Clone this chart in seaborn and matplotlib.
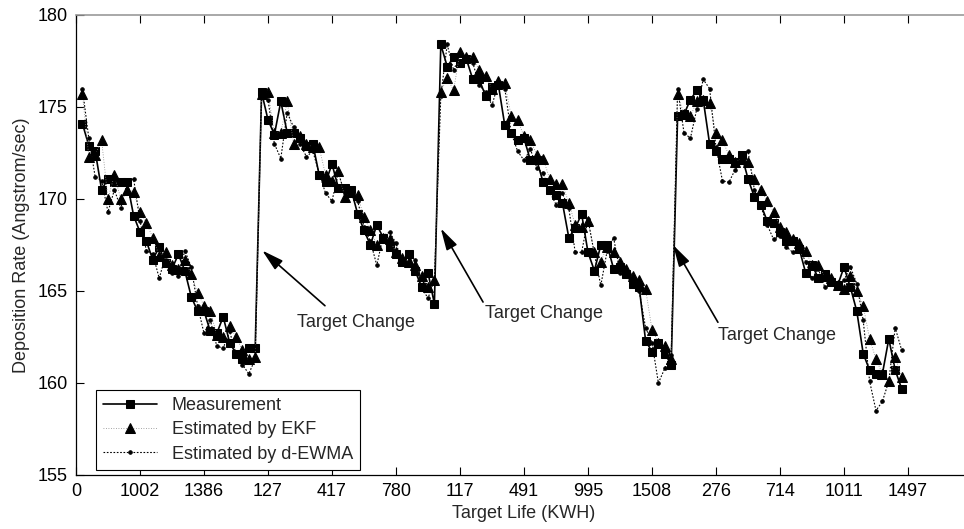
import numpy as np
import pandas as pd
import seaborn as sns
import matplotlib.pyplot as plt

sns.set_style("ticks")
plt.rcParams["font.family"] = ["Liberation Sans", "DejaVu Sans"]
plt.rcParams["font.size"] = 13

# measurement, one value per run (4 targets)
measurement = [
    174.1, 172.9, 172.6, 170.5, 171.1, 170.9, 170.9, 170.9, 169.1, 168.2,
    167.7, 166.7, 167.4, 166.5, 166.2, 167.0, 166.1, 164.7, 163.9, 163.9,
    162.8, 162.7, 163.6, 162.2, 161.6, 161.3, 161.9, 161.9,
    175.8, 174.3, 173.5, 175.3, 173.6, 173.6, 173.3, 172.9, 173.0, 171.3,
    170.9, 171.9, 170.6, 170.6, 170.5, 169.2, 168.3, 167.5, 168.6, 167.9,
    167.4, 167.0, 166.6, 167.0, 166.1, 165.2, 166.0, 164.3,
    178.4, 177.2, 177.7, 177.4, 177.6, 176.5, 176.5, 175.6, 176.1, 176.2,
    174.0, 173.6, 173.2, 173.3, 172.1, 172.1, 170.9, 170.5, 170.2, 169.8,
    167.9, 168.4, 169.2, 167.1, 166.1, 167.5, 167.5, 166.2, 166.3, 165.9,
    165.4, 165.2, 162.3, 161.7, 162.2, 161.6, 161.0,
    174.5, 174.6, 175.4, 175.9, 175.4, 173.0, 172.6, 172.2, 172.2, 172.0,
    172.4, 171.1, 170.1, 169.7, 168.8, 168.7, 168.2, 167.7, 167.7, 167.3,
    166.0, 166.4, 165.7, 165.9, 165.5, 165.3, 166.3, 165.2, 163.9, 161.6,
    160.7, 160.5, 160.5, 162.4, 160.7, 159.7,
]

ekf = [
    175.7, 172.3, 172.4, 173.2, 170.0, 171.3, 170.0, 170.5, 170.4, 169.3,
    168.7, 167.9, 166.9, 167.1, 166.4, 166.2, 166.7, 165.9, 164.9, 164.2,
    163.9, 162.6, 162.5, 163.1, 162.5, 161.8, 161.3, 161.4,
    175.7, 175.8, 173.6, 173.6, 175.3, 173.0, 173.4, 173.0, 172.8, 172.8,
    171.3, 171.0, 171.5, 170.1, 170.4, 170.2, 169.0, 168.3, 167.5, 167.9,
    167.8, 167.1, 166.8, 166.6, 166.4, 165.8, 165.2, 165.6,
    175.8, 176.6, 175.9, 178.0, 177.7, 177.7, 177.0, 176.7, 176.0, 176.4,
    176.3, 174.5, 174.3, 173.4, 173.2, 172.4, 172.2, 171.1, 170.8, 170.8,
    169.8, 168.6, 168.5, 168.8, 167.1, 166.6, 167.4, 167.1, 166.6, 166.2,
    165.8, 165.6, 165.1, 162.9, 162.2, 162.0, 161.3,
    175.7, 174.6, 174.5, 175.3, 175.4, 175.2, 173.6, 173.2, 172.4, 172.0,
    172.2, 172.0, 171.1, 170.5, 169.9, 169.3, 168.5, 168.2, 167.8, 167.6,
    167.2, 166.4, 166.4, 165.8, 165.7, 165.3, 165.1, 165.8, 165.0, 164.2,
    162.4, 161.3, 160.5, 160.1, 161.4, 160.3,
]

d_ewma = [
    176.0, 173.3, 171.2, 171.0, 169.3, 170.5, 169.5, 170.9, 171.1, 168.8,
    167.2, 167.0, 165.7, 166.9, 166.0, 165.8, 167.2, 166.3, 164.2, 162.7,
    163.4, 162.0, 161.9, 162.8, 161.6, 161.0, 160.5, 161.3,
    175.9, 175.4, 173.0, 172.2, 174.7, 173.9, 173.0, 172.3, 172.6, 171.4,
    170.3, 169.9, 171.4, 170.3, 170.2, 169.9, 168.5, 167.7, 166.4, 168.0,
    168.2, 167.6, 166.5, 166.9, 166.7, 165.2, 164.6, 165.6,
    175.6, 178.4, 177.0, 177.8, 177.6, 177.4, 176.2, 175.8, 175.1, 176.3,
    176.0, 173.6, 172.6, 172.1, 172.7, 171.7, 171.4, 170.4, 169.7, 170.3,
    169.5, 167.1, 167.1, 168.9, 167.0, 165.3, 167.2, 167.9, 166.0, 165.8,
    165.4, 165.0, 163.0, 162.2, 160.0, 160.8, 161.5,
    176.0, 173.6, 173.3, 174.9, 176.5, 176.0, 172.8, 171.0, 170.9, 171.6,
    172.0, 172.6, 170.5, 169.6, 168.6, 167.8, 168.0, 167.4, 167.1, 167.3,
    166.6, 165.7, 166.2, 165.2, 165.5, 165.3, 165.6, 166.3, 165.4, 163.4,
    160.1, 158.5, 159.0, 160.1, 163.0, 161.8,
]

tick_pos = list(range(0, 140, 10))
tick_labels = ["0", "1002", "1386", "127", "417", "780", "117", "491",
               "995", "1508", "276", "714", "1011", "1497"]

run = np.arange(1, len(measurement) + 1)
df = pd.DataFrame({"run": run, "meas": measurement, "ekf": ekf, "dewma": d_ewma})

fig = plt.figure(figsize=(9.64, 5.29), dpi=100)
ax = fig.add_axes([76 / 964, 54 / 529, 896 / 964, 460 / 529])

sns.lineplot(data=df, x="run", y="meas", ax=ax, color="black", lw=1.2,
             marker="s", markersize=6, markeredgecolor="black", label="Measurement")
sns.lineplot(data=df, x="run", y="ekf", ax=ax, color="#888888", lw=0.6,
             linestyle=(0, (1, 2)), marker="^", markersize=7.5,
             markerfacecolor="black", markeredgecolor="black",
             label="Estimated by EKF")
sns.lineplot(data=df, x="run", y="dewma", ax=ax, color="black", lw=0.8,
             linestyle=(0, (1.5, 1.5)), marker="o", markersize=2.5,
             markeredgecolor="black", label="Estimated by d-EWMA")

# target change arrows
arrows = [((29.1, 167.2), (38.9, 164.2), (34.5, 163.3)),
          ((57.0, 168.4), (63.6, 164.4), (63.9, 163.8)),
          ((93.3, 167.5), (100.3, 163.3), (100.3, 162.6))]
for head, tail, txt in arrows:
    ax.annotate("", xy=head, xytext=tail,
                arrowprops=dict(arrowstyle="-|>,head_length=1.1,head_width=0.3",
                                color="black", lw=1.2,
                                mutation_scale=12, shrinkA=0, shrinkB=0))
    ax.text(txt[0], txt[1], "Target Change", ha="left", va="center", fontsize=13)

ax.set_xlim(0, 140)
ax.set_ylim(155, 180)
ax.set_xticks(tick_pos)
ax.set_xticklabels(tick_labels)
ax.set_yticks(range(155, 181, 5))
ax.tick_params(direction="in", length=6, width=0.8, top=True, right=True,
               labelsize=13, pad=6, colors="black")
ax.set_xlabel("Target Life (KWH)", fontsize=13, labelpad=3)
ax.set_ylabel("Deposition Rate (Angstrom/sec)", fontsize=13, labelpad=5)
for s in ["left", "bottom"]:
    ax.spines[s].set_color("black")
    ax.spines[s].set_linewidth(0.9)
ax.spines["top"].set_color("#999999")
ax.spines["top"].set_linewidth(1.2)

leg = ax.legend(loc="lower left", bbox_to_anchor=(0.022, 0.011), borderaxespad=0,
                fancybox=False, framealpha=1, edgecolor="black", fontsize=13,
                handlelength=3.0, borderpad=0.4, labelspacing=0.4)
leg.get_frame().set_linewidth(0.8)

fig.savefig("out.png", dpi=100)
